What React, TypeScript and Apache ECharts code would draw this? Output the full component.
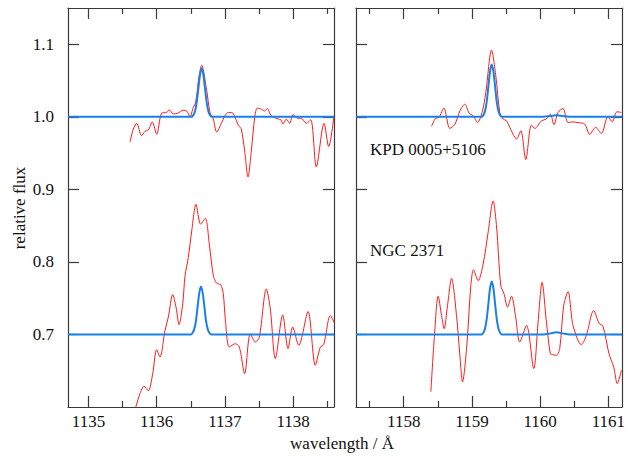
import React, { useEffect, useRef } from "react";
import * as echarts from "echarts";

// ---- data (wavelength in Å, relative flux) ----
const leftRange = [1134.7, 1138.6];
const rightRange = [1157.3, 1161.2];
const yRange = [0.6, 1.15];
const leftMajorTicks = [1135, 1136, 1137, 1138];
const leftMinorTicks = [1135.5, 1136.5, 1137.5, 1138.5];
const rightMajorTicks = [1158, 1159, 1160, 1161];
const rightMinorTicks = [1157.5, 1158.5, 1159.5, 1160.5];
const yTicks = [0.7, 0.8, 0.9, 1.0, 1.1];

const kpdObsLeft = [
  [1135.609, 0.965], [1135.657, 0.983], [1135.707, 0.991], [1135.78, 0.974], [1135.829, 0.98],
  [1135.878, 0.982], [1135.936, 0.993], [1136.0, 0.976], [1136.074, 1.005], [1136.147, 1.006],
  [1136.185, 1.0096], [1136.244, 1.004], [1136.31, 1.005], [1136.39, 1.009], [1136.44, 1.008],
  [1136.489, 1.0005], [1136.537, 1.013], [1136.572, 1.02], [1136.62, 1.055], [1136.66, 1.071],
  [1136.734, 1.036], [1136.782, 1.006], [1136.83, 0.997], [1136.88, 0.979], [1136.954, 0.992],
  [1137.0, 1.0014], [1137.05, 1.006], [1137.1, 1.006], [1137.2, 0.988], [1137.241, 0.983],
  [1137.29, 0.953], [1137.339, 0.917], [1137.388, 0.953], [1137.437, 0.999], [1137.476, 1.012],
  [1137.535, 1.0106], [1137.58, 1.008], [1137.622, 1.0115], [1137.68, 1.0014], [1137.78, 0.997],
  [1137.82, 0.996], [1137.853, 0.99], [1137.9, 0.997], [1137.95, 0.991], [1138.0, 1.003],
  [1138.072, 0.998], [1138.12, 0.998], [1138.194, 0.991], [1138.259, 0.996], [1138.341, 0.931],
  [1138.454, 0.991], [1138.522, 0.959], [1138.6, 1.001],
];

const kpdModelLeft = [
  [1134.7, 1.0], [1136.51, 1.0], [1136.535, 1.002], [1136.56, 1.007], [1136.585, 1.019],
  [1136.61, 1.038], [1136.635, 1.058], [1136.66, 1.067], [1136.685, 1.058], [1136.71, 1.038],
  [1136.735, 1.019], [1136.76, 1.007], [1136.785, 1.002], [1136.81, 1.0], [1138.6, 1.0],
];

const ngcObsLeft = [
  [1135.68, 0.596], [1135.697, 0.601], [1135.756, 0.6186], [1135.814, 0.6286], [1135.877, 0.6223],
  [1135.942, 0.646], [1136.0, 0.679], [1136.049, 0.669], [1136.122, 0.7055], [1136.171, 0.724],
  [1136.235, 0.755], [1136.284, 0.7376], [1136.328, 0.7137], [1136.382, 0.742], [1136.416, 0.781],
  [1136.464, 0.806], [1136.514, 0.8428], [1136.577, 0.8794], [1136.645, 0.852], [1136.713, 0.86],
  [1136.772, 0.8244], [1136.831, 0.781], [1136.88, 0.7705], [1136.939, 0.7686], [1136.977, 0.7559],
  [1137.006, 0.7215], [1137.065, 0.6827], [1137.153, 0.6872], [1137.212, 0.6827], [1137.29, 0.646],
  [1137.373, 0.701], [1137.447, 0.6896], [1137.505, 0.6964], [1137.608, 0.7627], [1137.666, 0.7353],
  [1137.74, 0.6667], [1137.848, 0.727], [1137.926, 0.6804], [1137.994, 0.7102], [1138.083, 0.685],
  [1138.219, 0.7316], [1138.326, 0.6575], [1138.4, 0.6827], [1138.449, 0.6859], [1138.546, 0.726],
  [1138.61, 0.7147],
];

const ngcModelLeft = [
  [1134.7, 0.7], [1136.5, 0.7], [1136.525, 0.702], [1136.55, 0.707], [1136.575, 0.718],
  [1136.6, 0.738], [1136.625, 0.757], [1136.65, 0.766], [1136.675, 0.757], [1136.7, 0.738],
  [1136.725, 0.718], [1136.75, 0.707], [1136.775, 0.702], [1136.8, 0.7], [1138.6, 0.7],
];

const kpdObsRight = [
  [1158.408, 0.987], [1158.467, 0.998], [1158.515, 0.999], [1158.588, 1.012], [1158.676, 0.984],
  [1158.749, 0.9896], [1158.823, 1.008], [1158.896, 1.0174], [1158.959, 1.005], [1159.018, 1.0014],
  [1159.082, 0.9923], [1159.149, 1.006], [1159.203, 1.0335], [1159.287, 1.092], [1159.35, 1.0563],
  [1159.408, 1.006], [1159.457, 0.997], [1159.506, 0.9945], [1159.555, 0.9854], [1159.603, 0.976],
  [1159.653, 0.9694], [1159.716, 0.9808], [1159.789, 0.941], [1159.872, 0.9886], [1159.921, 0.984],
  [1160.019, 0.9945], [1160.092, 0.997], [1160.15, 1.0037], [1160.203, 0.989], [1160.262, 1.006],
  [1160.335, 1.0115], [1160.409, 0.992], [1160.48, 0.993], [1160.555, 0.992], [1160.653, 0.99],
  [1160.726, 0.976], [1160.814, 0.9854], [1160.897, 0.977], [1160.994, 1.0005], [1161.058, 0.993],
  [1161.126, 1.007], [1161.19, 1.006],
];

const kpdModelRight = [
  [1157.3, 1.0], [1159.14, 1.0], [1159.165, 1.002], [1159.19, 1.0075], [1159.215, 1.02],
  [1159.24, 1.041], [1159.265, 1.0625], [1159.29, 1.072], [1159.315, 1.0625], [1159.34, 1.041],
  [1159.365, 1.02], [1159.39, 1.0075], [1159.415, 1.002], [1159.44, 1.0], [1160.05, 1.0],
  [1160.15, 1.001], [1160.24, 1.002], [1160.33, 1.001], [1160.43, 1.0], [1161.2, 1.0],
];

const ngcObsRight = [
  [1158.398, 0.621], [1158.447, 0.694], [1158.505, 0.7527], [1158.555, 0.726], [1158.593, 0.708],
  [1158.642, 0.74], [1158.701, 0.7774], [1158.774, 0.726], [1158.823, 0.6712], [1158.862, 0.6347],
  [1158.921, 0.6804], [1158.984, 0.7673], [1159.023, 0.7892], [1159.091, 0.7741], [1159.164, 0.797],
  [1159.237, 0.8406], [1159.31, 0.884], [1159.36, 0.8496], [1159.423, 0.7673], [1159.471, 0.7559],
  [1159.521, 0.7376], [1159.58, 0.7527], [1159.638, 0.726], [1159.701, 0.6896], [1159.8, 0.7124],
  [1159.906, 0.6529], [1159.97, 0.717], [1160.028, 0.7719], [1160.092, 0.717], [1160.15, 0.6735],
  [1160.189, 0.6721], [1160.238, 0.6712], [1160.287, 0.6804], [1160.345, 0.7398], [1160.409, 0.759],
  [1160.482, 0.7124], [1160.604, 0.6859], [1160.677, 0.6986], [1160.785, 0.733], [1160.863, 0.7156],
  [1160.921, 0.7115], [1161.009, 0.6735], [1161.078, 0.6553], [1161.131, 0.6323], [1161.19, 0.6506],
];

const ngcModelRight = [
  [1157.3, 0.7], [1159.14, 0.7], [1159.165, 0.702], [1159.19, 0.7075], [1159.215, 0.7205],
  [1159.24, 0.7415], [1159.265, 0.7635], [1159.29, 0.773], [1159.315, 0.7635], [1159.34, 0.7415],
  [1159.365, 0.7205], [1159.39, 0.7075], [1159.415, 0.702], [1159.44, 0.7], [1160.05, 0.7],
  [1160.15, 0.7015], [1160.24, 0.703], [1160.33, 0.7015], [1160.43, 0.7], [1161.2, 0.7],
];

const FONT = "'Liberation Serif', 'DejaVu Serif', serif";
const AXIS_COLOR = "#3a3a3a";
const RED = "#ff1a1a";
const BLUE = "#1a80e6";

function xMain(gridIndex: number, range: number[], ticks: number[], position: string, showLabel: boolean) {
  return {
    type: "value",
    gridIndex,
    position,
    min: range[0],
    max: range[1],
    axisLine: { show: true, onZero: false, lineStyle: { color: AXIS_COLOR, width: 1.2 } },
    axisTick: { show: true, inside: true, length: 11, customValues: ticks, lineStyle: { color: AXIS_COLOR, width: 1.2 } },
    axisLabel: {
      show: showLabel,
      customValues: ticks,
      margin: 6,
      fontSize: 17,
      fontFamily: FONT,
      color: "#111",
      formatter: (v: number) => String(Math.round(v)),
    },
    splitLine: { show: false },
  };
}

function xMinor(gridIndex: number, range: number[], ticks: number[], position: string) {
  return {
    type: "value",
    gridIndex,
    position,
    min: range[0],
    max: range[1],
    axisLine: { show: false, onZero: false },
    axisTick: { show: true, inside: true, length: 6, customValues: ticks, lineStyle: { color: AXIS_COLOR, width: 1.2 } },
    axisLabel: { show: false },
    splitLine: { show: false },
  };
}

function yMain(gridIndex: number, position: string, showLabel: boolean) {
  return {
    type: "value",
    gridIndex,
    position,
    min: yRange[0],
    max: yRange[1],
    axisLine: { show: true, onZero: false, lineStyle: { color: AXIS_COLOR, width: 1.2 } },
    axisTick: { show: true, inside: true, length: 11, customValues: yTicks, lineStyle: { color: AXIS_COLOR, width: 1.2 } },
    axisLabel: {
      show: showLabel,
      customValues: yTicks,
      margin: 14,
      fontSize: 17,
      fontFamily: FONT,
      color: "#111",
      formatter: (v: number) => v.toFixed(1),
    },
    splitLine: { show: false },
  };
}

function line(data: number[][], xi: number, yi: number, color: string, width: number, smooth: number) {
  return {
    type: "line",
    xAxisIndex: xi,
    yAxisIndex: yi,
    data,
    showSymbol: false,
    symbol: "none",
    smooth,
    clip: true,
    lineStyle: { color, width },
    z: color === BLUE ? 3 : 2,
  };
}

export default function App() {
  const ref = useRef<HTMLDivElement>(null);
  useEffect(() => {
    if (!ref.current) return;
    const chart = echarts.init(ref.current, null, { renderer: "svg" });
    const gL = { left: 68, top: 8, width: 266, height: 399 };
    const gR = { left: 356, top: 8, width: 266, height: 399 };
    chart.setOption({
      animation: false,
      backgroundColor: "#fff",
      grid: [
        { ...gL, containLabel: false },
        { ...gR, containLabel: false },
        { ...gL, containLabel: false },
        { ...gR, containLabel: false },
      ],
      xAxis: [
        xMain(0, leftRange, leftMajorTicks, "bottom", true),
        xMain(0, leftRange, leftMajorTicks, "top", false),
        xMain(1, rightRange, rightMajorTicks, "bottom", true),
        xMain(1, rightRange, rightMajorTicks, "top", false),
        xMinor(2, leftRange, leftMinorTicks, "bottom"),
        xMinor(2, leftRange, leftMinorTicks, "top"),
        xMinor(3, rightRange, rightMinorTicks, "bottom"),
        xMinor(3, rightRange, rightMinorTicks, "top"),
      ],
      yAxis: [
        yMain(0, "left", true),
        yMain(0, "right", false),
        yMain(1, "left", false),
        yMain(1, "right", false),
        { type: "value", gridIndex: 2, min: yRange[0], max: yRange[1], show: false },
        { type: "value", gridIndex: 3, min: yRange[0], max: yRange[1], show: false },
      ],
      series: [
        line(kpdObsLeft, 0, 0, RED, 1, 0.3),
        line(ngcObsLeft, 0, 0, RED, 1, 0.3),
        line(kpdObsRight, 2, 2, RED, 1, 0.3),
        line(ngcObsRight, 2, 2, RED, 1, 0.3),
        line(kpdModelLeft, 0, 0, BLUE, 2, 0.3),
        line(ngcModelLeft, 0, 0, BLUE, 2, 0.3),
        line(kpdModelRight, 2, 2, BLUE, 2, 0.3),
        line(ngcModelRight, 2, 2, BLUE, 2, 0.3),
      ],
      graphic: [
        {
          type: "text", x: 342, y: 443,
          style: { text: "wavelength / Å", fontSize: 17, fontFamily: FONT, fill: "#111", align: "center", verticalAlign: "middle" },
        },
        {
          type: "text", x: 19, y: 208, rotation: Math.PI / 2,
          style: { text: "relative flux", fontSize: 17, fontFamily: FONT, fill: "#111", align: "center", verticalAlign: "middle" },
        },
        {
          type: "text", x: 370, y: 149,
          style: { text: "KPD 0005+5106", fontSize: 17, fontFamily: FONT, fill: "#111", align: "left", verticalAlign: "middle" },
        },
        {
          type: "text", x: 370, y: 250,
          style: { text: "NGC 2371", fontSize: 17, fontFamily: FONT, fill: "#111", align: "left", verticalAlign: "middle" },
        },
      ],
    });
    return () => chart.dispose();
  }, []);
  return <div ref={ref} style={{ position: "fixed", left: 0, top: 0, width: 634, height: 456 }} />;
}
